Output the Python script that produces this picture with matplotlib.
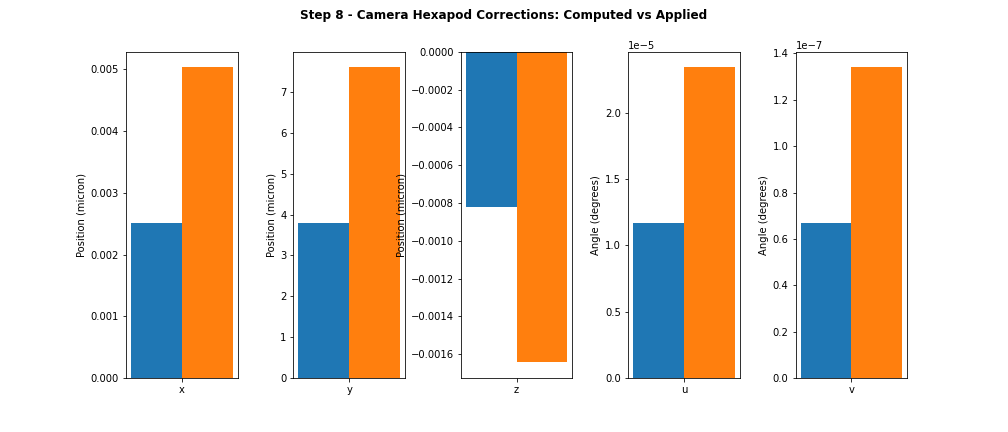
import matplotlib
matplotlib.use("Agg")
import matplotlib.pyplot as plt
import numpy as np

axes_names = ["x", "y", "z", "u", "v"]
computed = [0.002511, 3.79, -0.000820, 1.168e-5, 0.6677e-7]
applied = [0.005032, 7.60, -0.001644, 2.344e-5, 1.3397e-7]
ylabels = ["Position (micron)", "Position (micron)", "Position (micron)",
           "Angle (degrees)", "Angle (degrees)"]
title = "Step 8 - Camera Hexapod Corrections: Computed vs Applied"

fig, axs = plt.subplots(1, 5, figsize=(14, 6), dpi=72)
fig.subplots_adjust(left=0.125, right=0.9, top=0.88, bottom=0.125, wspace=0.5)
width = 0.35
for ax, name, c, a, yl in zip(axs, axes_names, computed, applied, ylabels):
    ax.bar([0 - width / 2], [c], width, label="Computed")
    ax.bar([0 + width / 2], [a], width, label="Applied")
    ax.set_xticks([0])
    ax.set_xticklabels([name])
    ax.set_ylabel(yl)
fig.suptitle(title, fontweight="bold")
fig.savefig("out.png", dpi=72)
